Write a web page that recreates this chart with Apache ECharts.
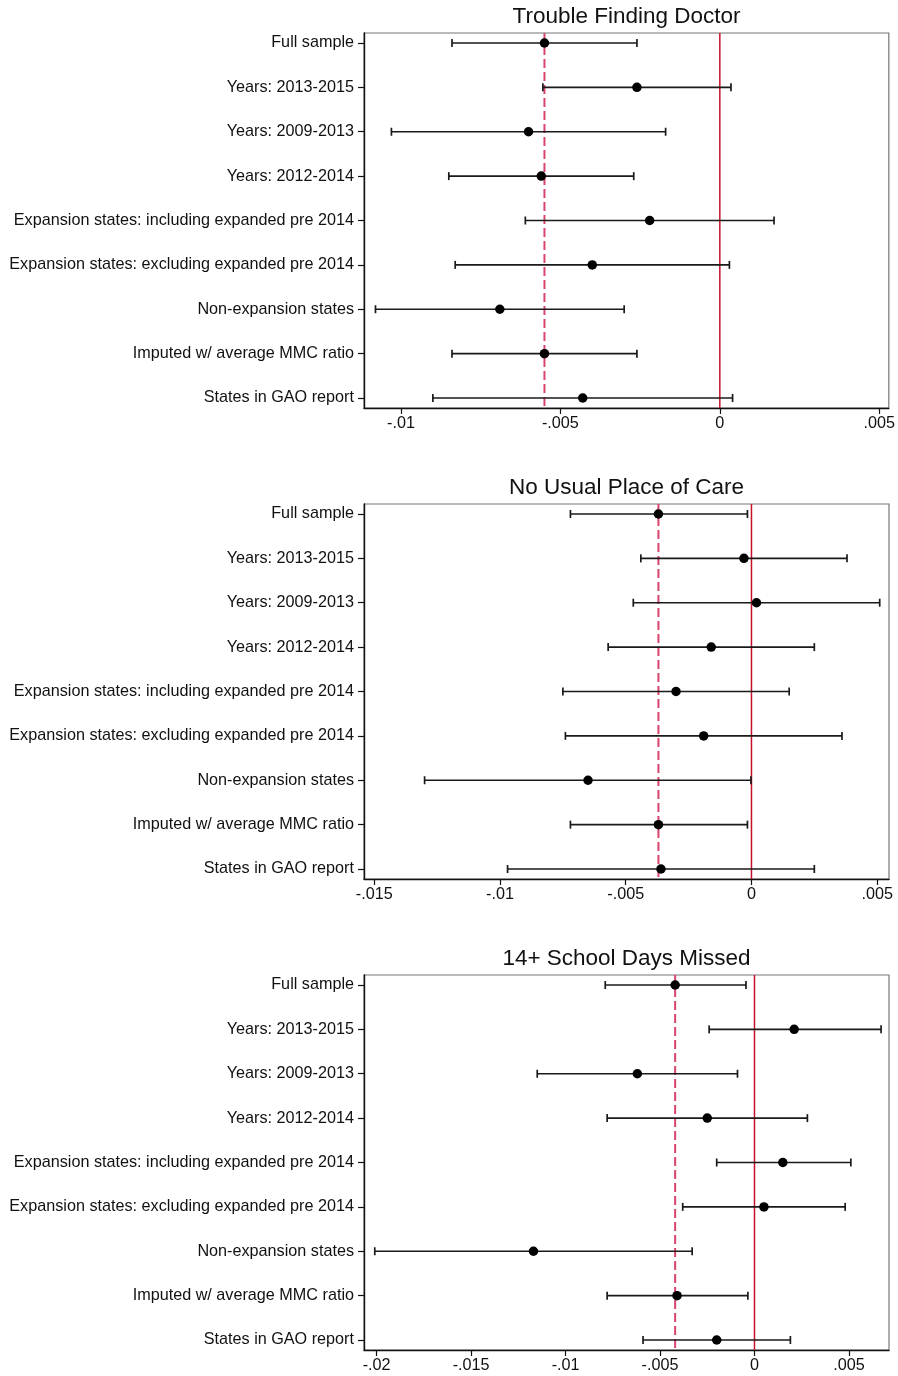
<!DOCTYPE html>
<html>
<head>
<meta charset="utf-8">
<script src="https://cdn.jsdelivr.net/npm/echarts@6/dist/echarts.min.js"></script>
<style>
html,body{margin:0;padding:0;background:#fff;}
#chart{width:898px;height:1376px;}
</style>
</head>
<body>
<div id="chart"></div>
<script>
const categories = [
  'Full sample',
  'Years: 2013-2015',
  'Years: 2009-2013',
  'Years: 2012-2014',
  'Expansion states: including expanded pre 2014',
  'Expansion states: excluding expanded pre 2014',
  'Non-expansion states',
  'Imputed w/ average MMC ratio',
  'States in GAO report'
];

const panelTitles = ['Trouble Finding Doctor', 'No Usual Place of Care', '14+ School Days Missed'];

const doctorEst = [-0.0055, -0.0026, -0.0060, -0.0056, -0.0022, -0.0040, -0.0069, -0.0055, -0.0043];
const doctorLo  = [-0.0084, -0.00555, -0.0103, -0.0085, -0.0061, -0.0083, -0.0108, -0.0084, -0.0090];
const doctorHi  = [-0.0026, 0.00035, -0.0017, -0.0027, 0.0017, 0.0003, -0.0030, -0.0026, 0.0004];
const doctorRef = -0.0055;

const placeEst = [-0.0037, -0.0003, 0.0002, -0.0016, -0.0030, -0.0019, -0.0065, -0.0037, -0.0036];
const placeLo  = [-0.0072, -0.0044, -0.0047, -0.0057, -0.0075, -0.0074, -0.0130, -0.0072, -0.0097];
const placeHi  = [-0.00016, 0.0038, 0.0051, 0.0025, 0.0015, 0.0036, -0.00002, -0.00016, 0.0025];
const placeRef = -0.0037;

const schoolEst = [-0.0042, 0.0021, -0.0062, -0.0025, 0.0015, 0.0005, -0.0117, -0.0041, -0.0020];
const schoolLo  = [-0.0079, -0.0024, -0.0115, -0.0078, -0.0020, -0.0038, -0.0201, -0.0078, -0.0059];
const schoolHi  = [-0.00045, 0.0067, -0.0009, 0.0028, 0.0051, 0.0048, -0.0033, -0.00035, 0.0019];
const schoolRef = -0.0042;

const zeroRef = 0;

const doctorTicks = [-0.01, -0.005, 0, 0.005];
const doctorTickLabels = ['-.01', '-.005', '0', '.005'];
const placeTicks = [-0.015, -0.01, -0.005, 0, 0.005];
const placeTickLabels = ['-.015', '-.01', '-.005', '0', '.005'];
const schoolTicks = [-0.02, -0.015, -0.01, -0.005, 0, 0.005];
const schoolTickLabels = ['-.02', '-.015', '-.01', '-.005', '0', '.005'];

const doctorRange = [-0.01116, 0.0053];
const placeRange = [-0.01541, 0.00547];
const schoolRange = [-0.02067, 0.00712];

const panels = [
  {title: panelTitles[0], est: doctorEst, lo: doctorLo, hi: doctorHi, ref: doctorRef, ticks: doctorTicks, tickLabels: doctorTickLabels, range: doctorRange},
  {title: panelTitles[1], est: placeEst, lo: placeLo, hi: placeHi, ref: placeRef, ticks: placeTicks, tickLabels: placeTickLabels, range: placeRange},
  {title: panelTitles[2], est: schoolEst, lo: schoolLo, hi: schoolHi, ref: schoolRef, ticks: schoolTicks, tickLabels: schoolTickLabels, range: schoolRange}
];

const FONT = "'Liberation Sans', Arial, Helvetica, sans-serif";
const gridTops = [33, 504, 975];
const gridH = 375;
const gridLeft = 364;
const gridRight = 9;
const yMin = 0.775, yMax = 9.225;
const rowVals = categories.map((c, i) => i + 1);

const chart = echarts.init(document.getElementById('chart'), null, {renderer: 'canvas'});

const option = {
  animation: false,
  backgroundColor: '#fff',
  title: [], grid: [], xAxis: [], yAxis: [], series: []
};

panels.forEach((p, k) => {
  option.title.push({
    text: p.title,
    left: gridLeft + (898 - gridLeft - gridRight) / 2,
    textAlign: 'center',
    top: gridTops[k] - 28,
    padding: 0,
    textStyle: {fontFamily: FONT, fontSize: 22.5, fontWeight: 'normal', color: '#111'}
  });
  option.grid.push({
    left: gridLeft, right: gridRight, top: gridTops[k], height: gridH,
    show: true, borderColor: '#777', borderWidth: 1.2, backgroundColor: 'transparent'
  });
  option.xAxis.push({
    type: 'value', gridIndex: k, min: p.range[0], max: p.range[1],
    splitLine: {show: false},
    axisLine: {show: true, onZero: false, lineStyle: {color: '#111', width: 1.4}},
    axisTick: {show: true, length: 6, customValues: p.ticks, lineStyle: {color: '#111', width: 1.2}},
    axisLabel: {
      customValues: p.ticks, margin: 8,
      fontFamily: FONT, fontSize: 16.2, color: '#111',
      formatter: (v) => {
        const idx = p.ticks.findIndex(t => Math.abs(t - v) < 1e-9);
        return idx >= 0 ? p.tickLabels[idx] : '';
      }
    }
  });
  option.yAxis.push({
    type: 'value', gridIndex: k, inverse: true, min: yMin, max: yMax,
    splitLine: {show: false},
    axisLine: {show: true, onZero: false, lineStyle: {color: '#111', width: 1.4}},
    axisTick: {show: true, length: 6, customValues: rowVals, lineStyle: {color: '#111', width: 1.2}},
    axisLabel: {
      customValues: rowVals, margin: 10,
      fontFamily: FONT, fontSize: 16.2, color: '#111',
      formatter: (v) => categories[Math.round(v) - 1] || ''
    }
  });
  // zero reference line (solid)
  option.series.push({
    type: 'line', xAxisIndex: k, yAxisIndex: k,
    data: [[zeroRef, yMin], [zeroRef, yMax]],
    symbol: 'none', silent: true, z: 1,
    lineStyle: {color: '#c8102e', width: 1.5, type: 'solid'}
  });
  // full-sample reference line (dashed)
  option.series.push({
    type: 'line', xAxisIndex: k, yAxisIndex: k,
    data: [[p.ref, yMin], [p.ref, yMax]],
    symbol: 'none', silent: true, z: 1,
    lineStyle: {color: '#d9446c', width: 2, type: [9, 4]}
  });
  const barData = p.lo.map((l, i) => [l, p.hi[i], i + 1]);
  option.series.push({
    type: 'custom', xAxisIndex: k, yAxisIndex: k,
    data: barData,
    encode: {x: [0, 1], y: 2},
    z: 3,
    renderItem: (params, api) => {
      const a = api.coord([api.value(0), api.value(2)]);
      const b = api.coord([api.value(1), api.value(2)]);
      const cap = 4;
      const style = {stroke: '#1a1a1a', lineWidth: 1.7};
      return {
        type: 'group',
        children: [
          {type: 'line', shape: {x1: a[0], y1: a[1], x2: b[0], y2: b[1]}, style},
          {type: 'line', shape: {x1: a[0], y1: a[1] - cap, x2: a[0], y2: a[1] + cap}, style},
          {type: 'line', shape: {x1: b[0], y1: b[1] - cap, x2: b[0], y2: b[1] + cap}, style}
        ]
      };
    }
  });
  option.series.push({
    type: 'scatter', xAxisIndex: k, yAxisIndex: k,
    data: p.est.map((e, i) => [e, i + 1]),
    symbol: 'circle', symbolSize: 9.5,
    itemStyle: {color: '#000', opacity: 1},
    z: 4
  });
});

chart.setOption(option);
</script>
</body>
</html>
